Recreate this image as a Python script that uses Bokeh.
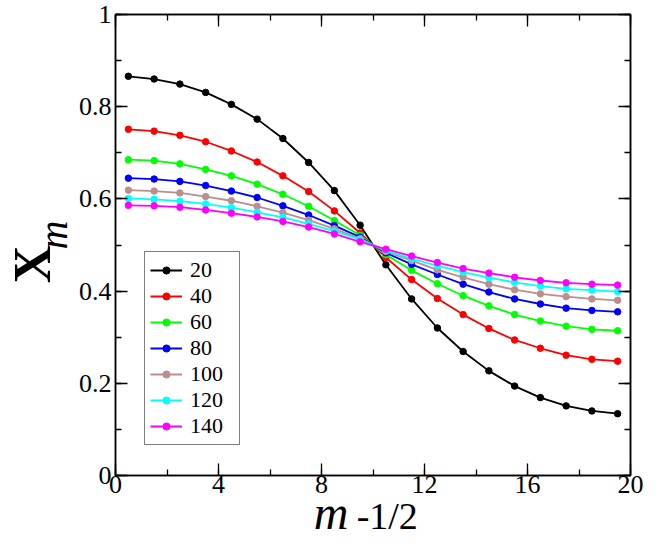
from bokeh.plotting import figure
from bokeh.models import (FixedTicker, LinearAxis, Legend, LegendItem,
                          ColumnDataSource, CustomLabelingPolicy)
from bokeh.embed import file_html
from bokeh.resources import INLINE

# ---- data ----
x_vals = [0.5, 1.5, 2.5, 3.5, 4.5, 5.5, 6.5, 7.5, 8.5, 9.5,
          10.5, 11.5, 12.5, 13.5, 14.5, 15.5, 16.5, 17.5, 18.5, 19.5]

series_names = ["20", "40", "60", "80", "100", "120", "140"]

x20 = [0.866, 0.860, 0.849, 0.831, 0.805, 0.773, 0.731, 0.679, 0.618, 0.543,
       0.457, 0.383, 0.320, 0.269, 0.227, 0.194, 0.169, 0.151, 0.140, 0.134]
x40 = [0.751, 0.747, 0.738, 0.724, 0.704, 0.680, 0.650, 0.616, 0.574, 0.526,
       0.473, 0.425, 0.384, 0.349, 0.319, 0.294, 0.276, 0.261, 0.252, 0.248]
x60 = [0.685, 0.683, 0.676, 0.664, 0.650, 0.632, 0.610, 0.584, 0.553, 0.521,
       0.479, 0.445, 0.416, 0.390, 0.368, 0.349, 0.335, 0.324, 0.317, 0.314]
x80 = [0.645, 0.643, 0.638, 0.629, 0.617, 0.603, 0.585, 0.565, 0.542, 0.517,
       0.483, 0.458, 0.436, 0.415, 0.398, 0.383, 0.372, 0.363, 0.358, 0.355]
x100 = [0.619, 0.617, 0.613, 0.605, 0.596, 0.584, 0.570, 0.554, 0.535, 0.514,
        0.486, 0.466, 0.446, 0.430, 0.415, 0.403, 0.394, 0.388, 0.383, 0.380]
x120 = [0.601, 0.599, 0.595, 0.589, 0.581, 0.571, 0.560, 0.546, 0.530, 0.512,
        0.488, 0.470, 0.455, 0.441, 0.429, 0.419, 0.411, 0.405, 0.402, 0.399]
x140 = [0.586, 0.585, 0.582, 0.576, 0.569, 0.561, 0.551, 0.539, 0.524, 0.507,
        0.491, 0.476, 0.462, 0.449, 0.439, 0.430, 0.423, 0.418, 0.415, 0.413]

colors = ["#000000", "#ff0000", "#00ff00", "#0000ff", "#bc8f8f", "#00ffff", "#ff00ff"]

x_major = [0, 4, 8, 12, 16, 20]
x_minor = [0, 2, 4, 6, 8, 10, 12, 14, 16, 18, 20]
y_major = [0, 0.2, 0.4, 0.6, 0.8, 1]
y_minor = [0, 0.1, 0.2, 0.3, 0.4, 0.5, 0.6, 0.7, 0.8, 0.9, 1]
y_labels = ["0", "0.2", "0.4", "0.6", "0.8", "1"]

FONT = "Liberation Serif"
NB = "\u00a0"

p = figure(width=648, height=541, x_range=(0, 20), y_range=(0, 1),
           output_backend="svg", toolbar_location=None,
           min_border_left=115, min_border_right=14,
           min_border_top=14, min_border_bottom=66)
p.grid.visible = False
p.outline_line_color = "black"
p.outline_line_width = 1.5
p.background_fill_color = "white"

xt = FixedTicker(ticks=x_major, minor_ticks=x_minor)
yt = FixedTicker(ticks=y_major, minor_ticks=y_minor)
empty_t = FixedTicker(ticks=[], minor_ticks=[])

no_labels = CustomLabelingPolicy(code="for (const i of indices) indices.unset(i)")


def style_axis(ax, show_labels):
    ax.axis_line_color = "black"
    ax.axis_line_width = 1.5
    ax.major_tick_line_color = "black"
    ax.minor_tick_line_color = "black"
    ax.major_tick_line_width = 1.3
    ax.minor_tick_line_width = 1.3
    ax.major_tick_in = 12
    ax.major_tick_out = 0
    ax.minor_tick_in = 6
    ax.minor_tick_out = 0
    if show_labels:
        ax.major_label_text_font = FONT
        ax.major_label_text_font_size = "26px"
        ax.major_label_text_color = "black"
    else:
        ax.major_label_policy = no_labels
        ax.major_label_standoff = 0


def label_only_axis(text, style, size, standoff):
    ax = LinearAxis(ticker=empty_t)
    ax.axis_line_color = None
    ax.major_tick_line_color = None
    ax.minor_tick_line_color = None
    ax.major_tick_in = 0
    ax.major_tick_out = 0
    ax.minor_tick_in = 0
    ax.minor_tick_out = 0
    ax.major_label_policy = no_labels
    ax.major_label_standoff = 0
    ax.axis_label = text
    ax.axis_label_text_font = FONT
    ax.axis_label_text_font_style = style
    ax.axis_label_text_font_size = size
    ax.axis_label_text_color = "black"
    ax.axis_label_standoff = standoff
    return ax


xax = p.xaxis[0]
yax = p.yaxis[0]
xax.ticker = xt
yax.ticker = yt
style_axis(xax, True)
style_axis(yax, True)
xax.major_label_standoff = 0
yax.major_label_standoff = 4
yax.major_label_overrides = {v: s for v, s in zip(y_major, y_labels)}

# inner axis titles: italic m on both axes
xax.axis_label = "m" + NB * 7
xax.axis_label_text_font = FONT
xax.axis_label_text_font_style = "italic"
xax.axis_label_text_font_size = "48px"
xax.axis_label_text_color = "black"
xax.axis_label_standoff = -10

yax.axis_label = NB * 2 + "m"
yax.axis_label_text_font = FONT
yax.axis_label_text_font_style = "italic"
yax.axis_label_text_font_size = "40px"
yax.axis_label_text_color = "black"
yax.axis_label_standoff = 0

top = LinearAxis(ticker=xt)
style_axis(top, False)
p.add_layout(top, "above")
right = LinearAxis(ticker=yt)
style_axis(right, False)
p.add_layout(right, "right")

# outer title parts
p.add_layout(label_only_axis(NB * 3 + "-1/2", "normal", "38px", -47), "below")
p.add_layout(label_only_axis("X" + NB * 3, "bold", "52px", -33), "left")

all_series = [x20, x40, x60, x80, x100, x120, x140]
items = []
for name, ys, c in zip(series_names, all_series, colors):
    src = ColumnDataSource(dict(x=x_vals, y=ys))
    ln = p.line("x", "y", source=src, line_color=c, line_width=1.8)
    sc = p.scatter("x", "y", source=src, size=6.5, fill_color=c, line_color=c)
    items.append(LegendItem(label=name, renderers=[ln, sc]))

leg = Legend(items=items, location=(29, 30))
leg.label_text_font = FONT
leg.label_text_font_size = "22px"
leg.label_text_color = "black"
leg.border_line_color = "black"
leg.border_line_width = 1.5
leg.background_fill_color = "white"
leg.background_fill_alpha = 1
leg.glyph_width = 32
leg.glyph_height = 18
leg.label_height = 18
leg.label_width = 44
leg.spacing = 0
leg.padding = 5
leg.margin = 0
leg.label_standoff = 8
p.add_layout(leg, "center")

open("out.html", "w").write(file_html(p, INLINE))
